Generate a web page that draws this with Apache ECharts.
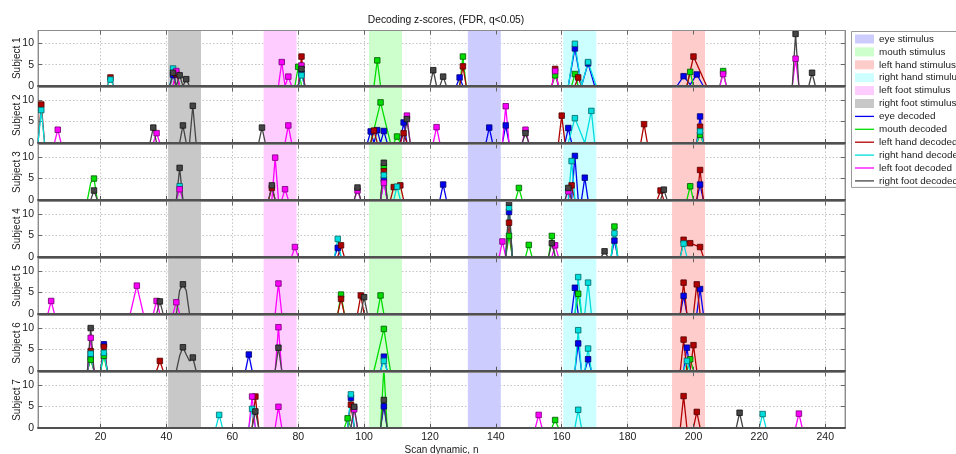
<!DOCTYPE html>
<html><head><meta charset="utf-8">
<script src="https://cdn.jsdelivr.net/npm/echarts@6/dist/echarts.min.js"></script>
<style>html,body{margin:0;padding:0;background:#fff}#c{width:956px;height:454px}</style>
</head><body><div id="c"></div>
<script>
// ---------- data ----------
const subjects = ['Subject 1','Subject 2','Subject 3','Subject 4','Subject 5','Subject 6','Subject 7'];
const xTicks = [20,40,60,80,100,120,140,160,180,200,220,240];
const yTicks = [0,5,10];
const stimulusNames = ['eye stimulus','mouth stimulus','left hand stimulus','right hand stimulus','left foot stimulus','right foot stimulus'];
const stimulusIntervals = [[131.5,141.5],[101.5,111.5],[193.5,203.5],[160.5,170.5],[69.5,79.5],[40.5,50.5]];
const decodedNames = ['eye decoded','mouth decoded','left hand decoded','right hand decoded','left foot decoded','right foot decoded'];
// per subject: list of peaks [scan, z]; a nested list is a joined run ([scan, z, 0] = point without marker)
const eyeDecoded = [
  [[42,2.6],[81,3.0],[129,2.0],[[162,0],[164,8.8],[166,0],[168,5.3],[170,0]],[[195,0],[197,2.3],[199,0.3,0],[201,2.7],[203,0]]],
  [[102,2.7],[104,3.0],[106,2.8],[112,4.8],[138,3.6],[143,4.1],[162,3.5],[202,6.2]],
  [[106,4.8],[124,3.6],[164,10.3],[167,5.2],[202,3.6]],
  [[92,2.1],[144,10.5],[176,3.8]],
  [[164,6.1],[197,4.2],[202,5.8]],
  [[17,3.2],[21,6.2],[65,3.8],[106,3.3],[165,6.4],[168,2.7],[198,5.4]],
  [[96,7.0],[106,5.0]]
];
const mouthDecoded = [
  [[80,4.5],[104,6.0],[130,6.9],[158,2.5],[164,2.8],[199,3.3],[209,3.5]],
  [[[102,0],[105,9.5],[108,0]],[110,1.5],[202,1.9]],
  [[[16,0],[17,4.0,0],[18,5.0],[19,0]],[106,7.8],[147,2.8],[199,3.2]],
  [[144,4.9],[150,2.8],[157,4.9],[176,7.1]],
  [[93,4.5],[105,4.3],[165,4.7]],
  [[17,2.6],[21,3.5],[[103,0],[106,9.8],[108,0]],[199,2.7]],
  [[95,2.2],[106,14],[158,1.8]]
];
const leftHandDecoded = [
  [[23,2.0],[43,2.8],[81,6.9],[130,4.6],[158,4.0],[165,2.0],[[198,0],[200,6.9],[204,0]]],
  [[2,9.0],[103,2.9],[112,2.3],[160,6.4],[185,4.4],[202,3.8]],
  [[72,2.8],[106,6.7],[[108,0],[109,3.0],[111,3.4],[112,0]],[163,3.4],[190,2.2],[202,7.0]],
  [[93,2.7],[144,8.0],[[196,0],[197,4.0],[199,3.2],[202,2.3],[203,0]]],
  [[93,3.5],[99,4.3],[197,7.3],[201,6.9]],
  [[17,4.6],[21,5.6],[38,2.3],[197,7.3],[200,6.0]],
  [[67,7.3],[96,5.4],[197,7.4],[201,3.7]]
];
const rightHandDecoded = [
  [[23,1.5],[42,4.1],[81,2.5],[[162,0],[164,9.9],[166,0],[168,5.6],[170.5,0]]],
  [[2,7.7],[[162,0],[164,5.8],[167,0],[169,7.5],[170,0]],[202,2.7]],
  [[44,3.2],[106,5.8],[110,3.1],[163,9.1]],
  [[92,4.2],[144,11.5],[176,5.5],[197,3.1]],
  [[165,8.6],[168,7.3]],
  [[17,4.0],[21,4.2],[106,2.3],[165,9.5],[168,5.2],[198,2.3]],
  [[56,3.0],[66,4.4],[96,7.8],[165,4.2],[221,3.2]]
];
const leftFootDecoded = [
  [[43,3.5],[75,5.6],[77,2.2],[81,4.8],[158,3.5],[209,2.8],[231,6.4]],
  [[7,3.1],[37,2.3],[77,4.1],[113,6.4],[122,3.7],[143,8.6],[149,3.1]],
  [[44,2.5],[73,9.9],[76,2.5],[98,2.2],[106,4.0],[162,2.0]],
  [[79,2.3],[142,3.6],[158,2.7]],
  [[5,3.0],[[29,0],[31,6.6],[33,0]],[37,3.0],[43,2.7],[74,7.1]],
  [[17,7.7],[74,10.2]],
  [[66,7.3],[74,4.9],[97,4.3],[153,3.0],[232,3.3]]
];
const rightFootDecoded = [
  [[42,3.1],[44,2.5],[46,1.6],[81,4.0],[121,3.7],[124,2.2],[231,12.2],[236,3.1]],
  [[36,3.6],[45,4.1],[48,8.7],[69,3.6],[113,5.6],[149,2.3]],
  [[18,2.2],[44,7.5],[72,3.4],[98,2.9],[106,8.7],[162,2.8],[191,2.4]],
  [[144,12.7],[157,3.2],[173,1.3]],
  [[38,2.9],[[43,0],[44,5.5,0],[45,6.9],[46,5.5,0],[47,0]],[100,3.9]],
  [[17,10.0],[[43,0],[44,3.5,0],[45,5.5],[46,3.8,0],[47,2.3,0],[48,3.1],[49,0]],[74,5.4]],
  [[67,3.8],[97,4.9],[106,6.5],[214,3.5]]
];

// ---------- styles ----------
const FONT = '"Liberation Sans", Arial, Helvetica, sans-serif';
const stimulusColors = ['#ccccff','#ccffcc','#ffcccc','#ccffff','#ffccff','#c8c8c8'];
const decodedColors = ['#0000f0','#00dd00','#b00000','#00dddd','#ff00ff','#454545'];
const decodedBorders = ['#000070','#005500','#500000','#006666','#700070','#111111'];
const decoded = [eyeDecoded, mouthDecoded, leftHandDecoded, rightHandDecoded, leftFootDecoded, rightFootDecoded];

function buildLine(entries) {
  const out = [];
  entries.forEach(entry => {
    const run = Array.isArray(entry[0]) ? entry : [entry];
    const first = run[0], last = run[run.length - 1];
    if (out.length) out.push({value: [first[0] - 1.5, '-']});
    if (first[1] !== 0) out.push({value: [first[0] - 1, 0], symbol: 'none'});
    run.forEach(p => {
      const marked = p[1] !== 0 && p[2] !== 0;
      out.push(marked ? {value: [p[0], p[1]]} : {value: [p[0], p[1]], symbol: 'none'});
    });
    if (last[1] !== 0) out.push({value: [last[0] + 1, 0], symbol: 'none'});
  });
  return out;
}

const grids = [], xAxes = [], yAxes = [], series = [];
const txt = {fontSize: 10, color: '#1a1a1a', fontFamily: FONT};
subjects.forEach((name, g) => {
  grids.push({left: 38, width: 807, top: 30.5 + g * 56.95, height: 55.5, show: true,
    outerBoundsMode: 'none', containLabel: false,
    borderColor: '#9a9a9a', borderWidth: 1, backgroundColor: 'transparent'});
  xAxes.push({type: 'value', gridIndex: g, min: 1, max: 246, position: 'bottom', z: 0,
    axisLine: {show: false, onZero: false},
    axisTick: {show: false, customValues: xTicks},
    axisLabel: Object.assign({show: g === 6, customValues: xTicks, margin: 4}, txt, {fontSize: 10.5}),
    splitLine: {show: true, lineStyle: {color: '#c4c4c4', width: 1, type: [1.5, 2]}},
    name: g === 6 ? 'Scan dynamic, n' : '', nameLocation: 'middle', nameGap: 18, nameMoveOverlap: false, nameTextStyle: txt});
  xAxes.push({type: 'value', gridIndex: g, min: 1, max: 246, position: 'bottom', z: 3,
    axisLine: {show: true, onZero: false, lineStyle: {color: '#505050', width: 2}},
    axisTick: {show: true, inside: true, length: 4, customValues: xTicks, lineStyle: {color: '#555'}},
    axisLabel: {show: false}, splitLine: {show: false}});
  xAxes.push({type: 'value', gridIndex: g, min: 1, max: 246, position: 'top', z: 3,
    axisLine: {show: true, onZero: false, lineStyle: {color: '#8c8c8c', width: 1}},
    axisTick: {show: true, inside: true, length: 4, customValues: xTicks, lineStyle: {color: '#666'}},
    axisLabel: {show: false}, splitLine: {show: false}});
  yAxes.push({type: 'value', gridIndex: g, min: 0, max: 13, position: 'left', z: 0,
    name: name, nameLocation: 'middle', nameGap: 16, nameMoveOverlap: false, nameTextStyle: txt,
    axisLine: {show: true, onZero: false, lineStyle: {color: '#8c8c8c'}},
    axisTick: {show: true, inside: true, length: 4, customValues: yTicks, lineStyle: {color: '#666'}},
    axisLabel: Object.assign({customValues: yTicks, margin: 4}, txt, {fontSize: 10.5}),
    splitLine: {show: true, lineStyle: {color: '#c4c4c4', width: 1, type: [1.5, 2]}}});
  yAxes.push({type: 'value', gridIndex: g, min: 0, max: 13, position: 'right', z: 0,
    axisLine: {show: true, onZero: false, lineStyle: {color: '#8c8c8c'}},
    axisTick: {show: true, inside: true, length: 4, customValues: yTicks, lineStyle: {color: '#666'}},
    axisLabel: {show: false}, splitLine: {show: false}});

  stimulusNames.forEach((sn, k) => series.push({
    name: sn, type: 'line', xAxisIndex: 3 * g, yAxisIndex: 2 * g, data: [], silent: true,
    color: stimulusColors[k], itemStyle: {color: stimulusColors[k]},
    markArea: {silent: true, z: 1, itemStyle: {color: stimulusColors[k], opacity: 1, borderWidth: 0},
      label: {show: false}, emphasis: {disabled: true},
      data: [[{xAxis: stimulusIntervals[k][0]}, {xAxis: stimulusIntervals[k][1]}]]}
  }));
  decoded.forEach((arr, k) => series.push({
    name: decodedNames[k], type: 'line', xAxisIndex: 3 * g, yAxisIndex: 2 * g, z: 2, silent: true,
    data: buildLine(arr[g]), color: decodedColors[k], symbol: 'rect', symbolSize: 5.5, showSymbol: true,
    connectNulls: false,
    lineStyle: {width: 1.3, color: decodedColors[k]},
    itemStyle: {color: decodedColors[k], borderColor: decodedBorders[k], borderWidth: 0.8},
    emphasis: {disabled: true}
  }));
});

const rectIcon = 'path://M0,0M19,9.4M0,0.2h19v9h-19z';
const lineIcon = 'path://M0,0M19,9.4M0,4.05h19v1.3h-19z';

const chart = echarts.init(document.getElementById('c'), null, {renderer: 'canvas'});
chart.setOption({
  animation: false,
  backgroundColor: '#fff',
  title: {text: 'Decoding z-scores, (FDR, q<0.05)', left: 441, top: 10, textAlign: 'center', textVerticalAlign: 'top',
    textStyle: {fontSize: 10.3, fontWeight: 'normal', color: '#111', fontFamily: FONT}},
  legend: {orient: 'vertical', left: 851.5, top: 31.5, padding: [2.5, 4, 1.5, 3.5], itemWidth: 19, itemHeight: 9.4, itemGap: 2.9,
    backgroundColor: '#fff', borderColor: '#999', borderWidth: 1, selectedMode: false,
    textStyle: {fontSize: 9.9, color: '#1a1a1a', fontFamily: FONT}, itemStyle: {borderWidth: 0},
    data: stimulusNames.map(n => ({name: n, icon: rectIcon})).concat(decodedNames.map(n => ({name: n, icon: lineIcon})))},
  grid: grids, xAxis: xAxes, yAxis: yAxes, series: series
});
</script></body></html>
